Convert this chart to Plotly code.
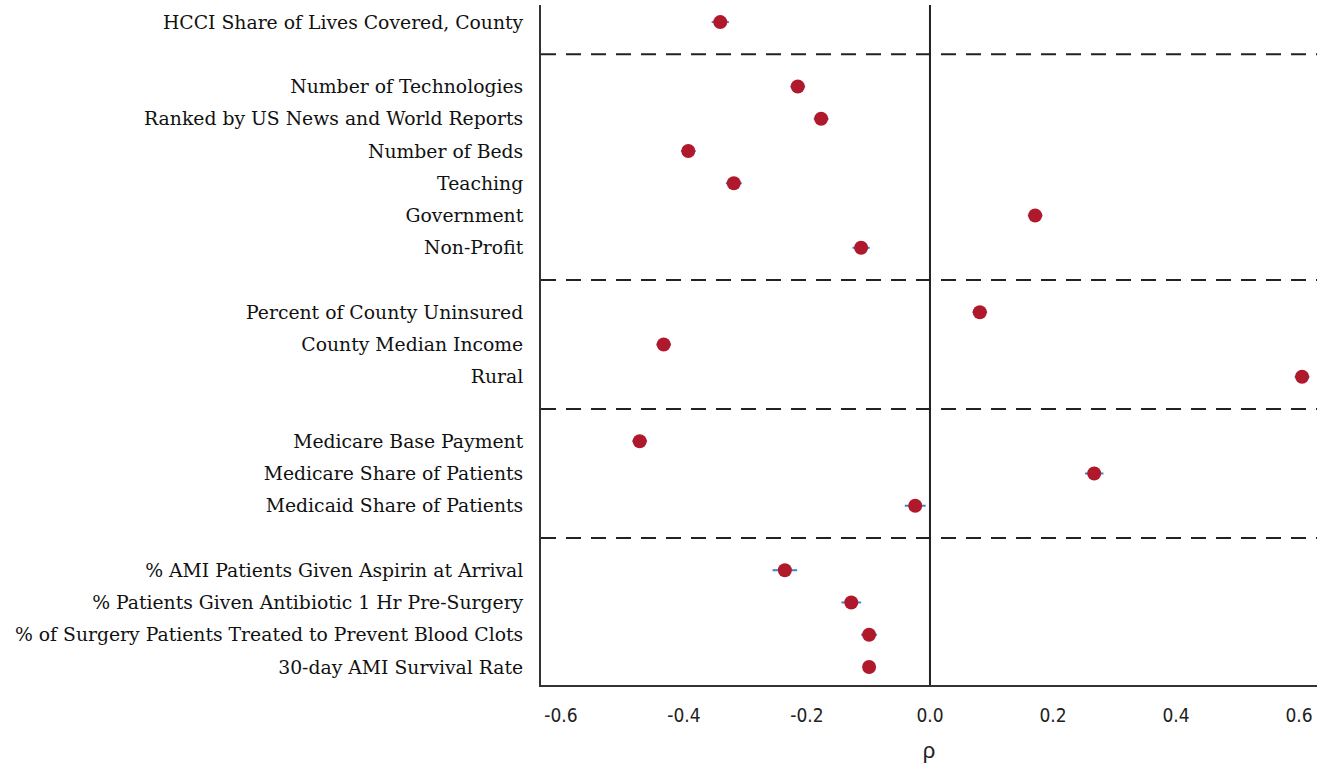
import plotly.graph_objects as go

# Correlations (rho) with hospital price, by variable group
group_labels = [
    ["HCCI Share of Lives Covered, County"],
    ["Number of Technologies", "Ranked by US News and World Reports", "Number of Beds",
     "Teaching", "Government", "Non-Profit"],
    ["Percent of County Uninsured", "County Median Income", "Rural"],
    ["Medicare Base Payment", "Medicare Share of Patients", "Medicaid Share of Patients"],
    ["% AMI Patients Given Aspirin at Arrival", "% Patients Given Antibiotic 1 Hr Pre-Surgery",
     "% of Surgery Patients Treated to Prevent Blood Clots", "30-day AMI Survival Rate"],
]
group_rho = [
    [-0.341],
    [-0.215, -0.177, -0.393, -0.319, 0.171, -0.112],
    [0.081, -0.433, 0.605],
    [-0.472, 0.267, -0.024],
    [-0.236, -0.128, -0.099, -0.099],
]
group_err = [
    [0.014],
    [0.012, 0.012, 0.012, 0.013, 0.012, 0.014],
    [0.012, 0.012, 0.012],
    [0.012, 0.015, 0.017],
    [0.020, 0.016, 0.013, 0.010],
]
x_ticks = [-0.6, -0.4, -0.2, 0.0, 0.2, 0.4, 0.6]

# Lay rows out top to bottom, leaving one empty slot between groups
labels, rho, err, ypos, separators = [], [], [], [], []
slot = 0
for gi, (lab, r, e) in enumerate(zip(group_labels, group_rho, group_err)):
    if gi > 0:
        separators.append(slot)
        slot += 1
    for l, v, s in zip(lab, r, e):
        labels.append(l)
        rho.append(v)
        err.append(s)
        ypos.append(slot)
        slot += 1

fig = go.Figure()
fig.add_trace(go.Scatter(
    x=rho, y=ypos, mode="markers",
    marker=dict(color="#B0182B", size=14, line=dict(width=0)),
    error_x=dict(type="data", array=err, color="#3F7FCF", thickness=2, width=0),
    showlegend=False,
))

for s in separators:
    fig.add_shape(type="line", xref="paper", yref="y", x0=0, x1=1, y0=s, y1=s,
                  line=dict(color="#222222", width=2, dash="15px,10px"), layer="below")

fig.add_shape(type="line", xref="x", yref="paper", x0=0, x1=0, y0=0, y1=1,
              line=dict(color="#222222", width=2), layer="below")

fig.update_xaxes(
    range=[-0.6325, 0.6293], tickvals=x_ticks,
    ticktext=[f"{t:.1f}" for t in x_ticks],
    showgrid=False, zeroline=False, showline=True, linecolor="#333333", linewidth=2,
    ticks="", ticklabelstandoff=12,
    tickfont=dict(family="DejaVu Sans Condensed, sans-serif", size=19, color="#222222"),
    title=dict(text="ρ", font=dict(family="Liberation Sans, sans-serif", size=22, color="#222222"),
               standoff=18),
)
fig.update_yaxes(
    range=[slot - 1 + 0.56, -0.53], tickvals=ypos, ticktext=labels,
    showgrid=False, zeroline=False, showline=True, linecolor="#333333", linewidth=2,
    ticks="", ticklabelstandoff=12,
    tickfont=dict(family="DejaVu Serif, serif", size=18.8, color="#111111"),
)
fig.update_layout(
    width=1317, height=770,
    margin=dict(l=541, r=0, t=5, b=85, autoexpand=False),
    plot_bgcolor="white", paper_bgcolor="white",
)
fig.write_html("out.html")
